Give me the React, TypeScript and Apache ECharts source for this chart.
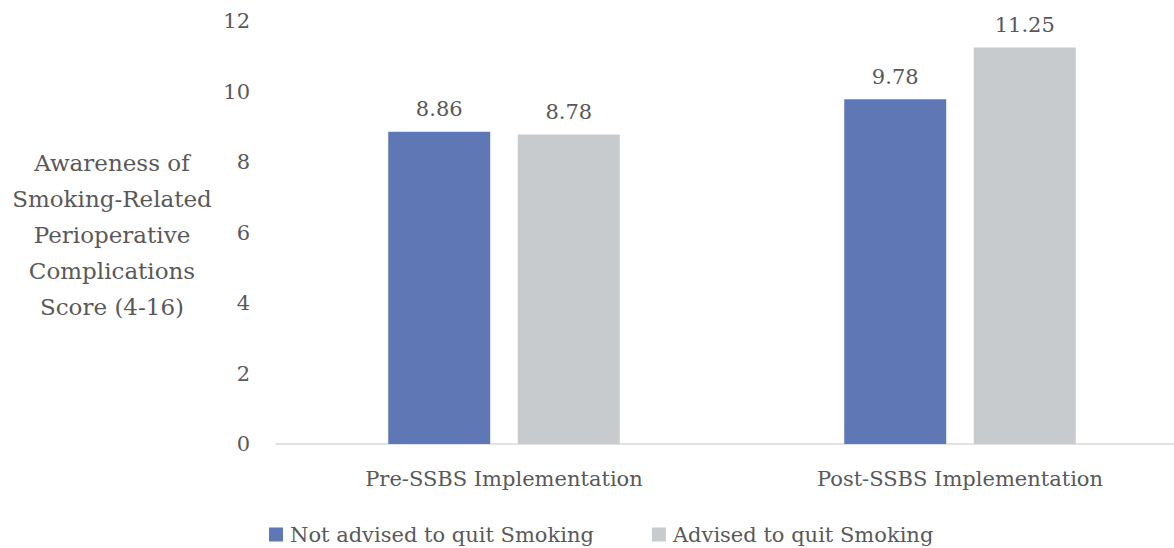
import React, { useEffect, useRef } from "react";
import * as echarts from "echarts";

const categories = ["Pre-SSBS Implementation", "Post-SSBS Implementation"];
const seriesNames = ["Not advised to quit Smoking", "Advised to quit Smoking"];
const notAdvised = [8.86, 9.78];
const advised = [8.78, 11.25];
const yTitleLines = ["Awareness of", "Smoking-Related", "Perioperative", "Complications", "Score (4-16)"];

const FONT = "DejaVu Serif";
const FS = 21;
const TEXT = "#595959";

export default function App() {
  const ref = useRef<HTMLDivElement>(null);
  useEffect(() => {
    if (!ref.current) return;
    const chart = echarts.init(ref.current, null, { renderer: "svg" });
    const labelStyle = {
      show: true,
      position: "top" as const,
      distance: 12,
      color: TEXT,
      fontFamily: FONT,
      fontSize: FS,
      formatter: (p: any) => p.value.toFixed(2),
    };
    chart.setOption({
      animation: false,
      textStyle: { fontFamily: FONT, color: TEXT },
      grid: {
        left: 276,
        width: 912,
        top: 21,
        bottom: 104,
        containLabel: false,
        outerBoundsMode: "none",
      },
      legend: {
        bottom: 3,
        left: 269,
        padding: 0,
        itemWidth: 14,
        itemHeight: 14,
        itemGap: 58,
        icon: "rect",
        textStyle: { fontFamily: FONT, fontSize: FS, color: TEXT, padding: [0, 0, 0, 2] },
        data: seriesNames,
      },
      xAxis: {
        type: "category",
        data: categories,
        axisLine: { lineStyle: { color: "#d9d9d9", width: 1.5 } },
        axisTick: { show: false },
        axisLabel: { fontFamily: FONT, fontSize: FS, color: TEXT, margin: 24 },
      },
      yAxis: {
        type: "value",
        min: 0,
        max: 12,
        interval: 2,
        axisLine: { show: false },
        axisTick: { show: false },
        splitLine: { show: false },
        axisLabel: { fontFamily: FONT, fontSize: FS, color: TEXT, margin: 26 },
      },
      graphic: [
        {
          type: "text",
          x: 112,
          y: 145,
          style: {
            text: yTitleLines.join("\n"),
            fontFamily: FONT,
            fontSize: 23,
            lineHeight: 36,
            fill: TEXT,
            align: "center",
            verticalAlign: "top",
          },
        },
      ],
      series: [
        {
          name: seriesNames[0],
          type: "bar",
          data: notAdvised,
          barWidth: 102,
          barGap: "27%",
          itemStyle: { color: "#5f77b4" },
          label: labelStyle,
        },
        {
          name: seriesNames[1],
          type: "bar",
          data: advised,
          barWidth: 102,
          itemStyle: { color: "#c8cbce" },
          label: labelStyle,
        },
      ],
    });
    return () => chart.dispose();
  }, []);
  return (
    <div
      ref={ref}
      style={{ position: "fixed", left: 0, top: 0, width: 1174, height: 548, background: "#fff" }}
    />
  );
}
